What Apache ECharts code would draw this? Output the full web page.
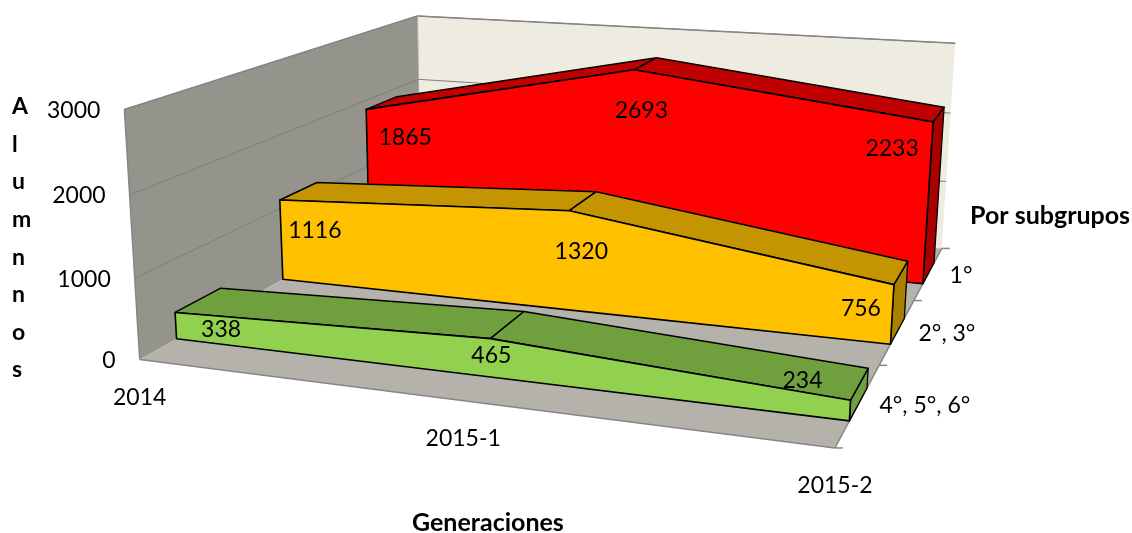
<!DOCTYPE html>
<html>
<head>
    <meta charset="utf-8">
    <title>Alumnos por generaciones</title>
    <style>html, body { margin: 0; background: #fff; }</style>
</head>
<body>
<script src="https://cdn.jsdelivr.net/npm/echarts@6/dist/echarts.min.js"></script>
<div id="main" style="width: 1132px;height:533px;"></div>
<script type="text/javascript">
    var generaciones = ['2014', '2015-1', '2015-2'];
    var subgrupos = ['4°, 5°, 6°', '2°, 3°', '1°'];
    var valorTicks = [0, 1000, 2000, 3000];
    var grupo456 = [338, 465, 234];
    var grupo23 = [1116, 1320, 756];
    var grupo1 = [1865, 2693, 2233];

    var FONT = 'Lato';

    // box corners on screen, used to fit the 3d -> 2d projection
    // [x, depth, height, screenX, screenY], all three box axes run 0..1
    var boxCorners = [
        [0, 0, 0, 140, 358], [1, 0, 0, 835, 449], [1, 1, 0, 942, 247], [0, 1, 0, 420, 204],
        [0, 0, 1, 124, 110], [0, 1, 1, 418, 15], [1, 1, 1, 955, 44]
    ];

    function fitProjection(pts) {
        var n = 11, A = [], i, j, k;
        for (i = 0; i < n; i++) {
            A.push(new Array(n + 1).fill(0));
        }
        function addRow(row, rhs) {
            for (var a = 0; a < n; a++) {
                for (var b = 0; b < n; b++) A[a][b] += row[a] * row[b];
                A[a][n] += row[a] * rhs;
            }
        }
        pts.forEach(function (p) {
            var x = p[0], y = p[1], z = p[2], u = p[3], v = p[4];
            addRow([x, y, z, 1, 0, 0, 0, 0, -u * x, -u * y, -u * z], u);
            addRow([0, 0, 0, 0, x, y, z, 1, -v * x, -v * y, -v * z], v);
        });
        for (i = 0; i < n; i++) {
            var best = i;
            for (j = i + 1; j < n; j++) if (Math.abs(A[j][i]) > Math.abs(A[best][i])) best = j;
            var tmp = A[i]; A[i] = A[best]; A[best] = tmp;
            for (j = 0; j < n; j++) {
                if (j === i) continue;
                var f = A[j][i] / A[i][i];
                for (k = i; k <= n; k++) A[j][k] -= f * A[i][k];
            }
        }
        return A.map(function (r, idx) { return r[n] / r[idx]; });
    }

    var P = fitProjection(boxCorners);

    function project(x, depth, h) {
        var w = P[8] * x + P[9] * depth + P[10] * h + 1;
        return [
            (P[0] * x + P[1] * depth + P[2] * h + P[3]) / w,
            (P[4] * x + P[5] * depth + P[6] * h + P[7]) / w
        ];
    }

    // hidden axes give the scales, result goes through the projection
    function toUnit(api, params, cat, val) {
        var c = api.coord([cat, val]), r = params.coordSys;
        return [(c[0] - r.x) / r.width, (r.y + r.height - c[1]) / r.height];
    }

    function poly(points, fill, stroke, lw) {
        return {
            type: 'polygon',
            shape: {points: points},
            style: {fill: fill, stroke: stroke || null, lineWidth: lw || 0, lineJoin: 'round'}
        };
    }

    function line(a, b, color, lw) {
        return {
            type: 'line',
            shape: {x1: a[0], y1: a[1], x2: b[0], y2: b[1]},
            style: {stroke: color, lineWidth: lw, fill: null}
        };
    }

    function text(str, x, y, align, bold) {
        return {
            type: 'text',
            style: {
                text: str, x: x, y: y, fill: '#000',
                align: align || 'center', verticalAlign: 'middle',
                fontFamily: FONT, fontSize: 23, fontWeight: bold ? 'bold' : 'normal'
            }
        };
    }

    function renderBox(params, api) {
        var edge = '#868686', grid = '#7f7f7a', kids = [];
        var yv = function (v) { return toUnit(api, params, 0, v)[1]; };
        var top = yv(valorTicks[valorTicks.length - 1]);

        kids.push(poly([project(0, 0, 0), project(0, 1, 0), project(0, 1, top), project(0, 0, top)], '#94948c'));
        kids.push(poly([project(0, 1, 0), project(1, 1, 0), project(1, 1, top), project(0, 1, top)], '#eeece1'));
        kids.push(poly([project(0, 0, 0), project(1, 0, 0), project(1, 1, 0), project(0, 1, 0)], '#b5b2ab'));

        valorTicks.forEach(function (v) {
            var h = yv(v);
            if (v > 0) {
                kids.push(line(project(0, 0, h), project(0, 1, h), grid, 1));
                kids.push(line(project(0, 1, h), project(1, 1, h), grid, 1));
            }
            var a = project(0, 0, h);
            kids.push(text(String(v), a[0] - 24, a[1] + 1, 'right'));
        });

        kids.push(line(project(0, 0, 0), project(0, 0, top), edge, 1.5));
        kids.push(line(project(0, 0, top), project(0, 1, top), edge, 1.5));
        kids.push(line(project(0, 1, top), project(1, 1, top), edge, 1.5));
        kids.push(line(project(0, 1, 0), project(0, 1, top), '#a8a8a0', 1));
        kids.push(line(project(0, 0, 0), project(1, 0, 0), edge, 1.5));
        kids.push(line(project(1, 0, 0), project(1, 1, 0), edge, 1.5));

        // depth ticks + labels on the right floor edge
        subgrupos.forEach(function (s, i) {
            var m = project(1, (i + 0.5) / subgrupos.length, 0);
            kids.push(text(s, m[0] + 21, m[1] + 2, 'left'));
        });
        for (var t = 0; t <= subgrupos.length; t++) {
            var p = project(1, t / subgrupos.length, 0);
            kids.push(line(p, [p[0] + 8, p[1]], edge, 1.5));
        }

        generaciones.forEach(function (g, i) {
            var u = toUnit(api, params, i, 0)[0];
            var f = project(u, 0, 0);
            kids.push(text(g, f[0], f[1] + 38));
        });
        return {type: 'group', children: kids};
    }

    // front/top/side faces of one ribbon; nudge = label offset from front top vertex
    function ribbon(values, slot, colors, nudge) {
        return {
            type: 'custom',
            coordinateSystem: 'cartesian2d',
            silent: true,
            clip: false,
            data: [[0, 0]],
            renderItem: function (params, api) {
                var z0 = (slot + 0.3) / subgrupos.length, z1 = (slot + 0.7) / subgrupos.length;
                var kids = [], frontTop = [], frontBase = [], backTop = [], backBase = [];
                values.forEach(function (v, i) {
                    var q = toUnit(api, params, i, v);
                    frontTop.push(project(q[0], z0, q[1]));
                    frontBase.push(project(q[0], z0, 0));
                    backTop.push(project(q[0], z1, q[1]));
                    backBase.push(project(q[0], z1, 0));
                });
                var last = values.length - 1;
                kids.push(poly([frontBase[last], backBase[last], backTop[last], frontTop[last]], colors.side, '#000', 1.3));
                for (var i = 0; i < last; i++) {
                    kids.push(poly([frontTop[i], frontTop[i + 1], backTop[i + 1], backTop[i]], colors.top, '#000', 1.5));
                }
                kids.push(poly(frontTop.concat(frontBase.slice().reverse()), colors.front, '#000', 1.6));
                values.forEach(function (v, i) {
                    kids.push(text(String(v), frontTop[i][0] + nudge[i][0], frontTop[i][1] + nudge[i][1]));
                });
                return {type: 'group', children: kids};
            }
        };
    }

    var myChart = echarts.init(document.getElementById('main'), null, {renderer: 'canvas'});
    var option = {
        animation: false,
        grid: {left: 0, right: 0, top: 0, bottom: 0},
        xAxis: {type: 'category', data: generaciones, boundaryGap: false, show: false},
        yAxis: {type: 'value', min: 0, max: 3000, interval: 1000, show: false},
        series: [
            {
                type: 'custom',
                coordinateSystem: 'cartesian2d',
                silent: true,
                clip: false,
                data: [[0, 0]],
                renderItem: renderBox
            },
            ribbon(grupo1, 2, {front: '#ff0000', top: '#c00000', side: '#a80000'}, [[39, 28], [7, 41], [-41, 27]]),
            ribbon(grupo23, 1, {front: '#ffc000', top: '#c49500', side: '#aa8000'}, [[35, 31], [12, 41], [-33, 24]]),
            ribbon(grupo456, 0, {front: '#92d050', top: '#70a03e', side: '#70a03e'}, [[46, 17], [1, 17], [-48, -20]])
        ],
        graphic: [
            {type: 'text', left: 412, top: 510, style: {text: 'Generaciones', fill: '#000', fontFamily: FONT, fontSize: 25, fontWeight: 'bold'}},
            {type: 'text', left: 970, top: 203, style: {text: 'Por subgrupos', fill: '#000', fontFamily: FONT, fontSize: 25, fontWeight: 'bold'}},
            {
                type: 'text', left: 12, top: 88,
                style: {
                    text: 'A\nl\nu\nm\nn\nn\no\ns', fill: '#000', align: 'center', width: 20,
                    fontFamily: FONT, fontSize: 23, fontWeight: 'bold', lineHeight: 37.6
                }
            }
        ]
    };
    myChart.setOption(option);
</script>
</body>
</html>
